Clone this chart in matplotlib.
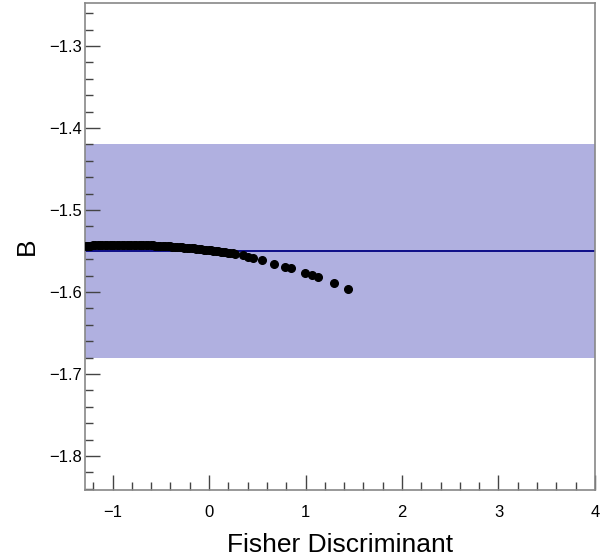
import matplotlib
matplotlib.use("Agg")
import matplotlib.pyplot as plt
from matplotlib.ticker import MultipleLocator, FuncFormatter

plt.rcParams["font.family"] = ["Liberation Sans", "DejaVu Sans"]

# scan points: Fisher discriminant cut vs fitted B (dense part of the scan)
fisher_dense = [-1.28, -1.255, -1.23, -1.205, -1.18, -1.155, -1.13, -1.105,
                -1.08, -1.055, -1.03, -1.005, -0.98, -0.955, -0.93, -0.905,
                -0.88, -0.855, -0.83, -0.805, -0.78, -0.755, -0.73, -0.705,
                -0.68, -0.655, -0.63, -0.605, -0.58, -0.555, -0.53, -0.505,
                -0.48, -0.455, -0.43, -0.405, -0.38, -0.355, -0.33, -0.305,
                -0.28, -0.255, -0.23, -0.205, -0.18, -0.155, -0.13, -0.105,
                -0.08, -0.055, -0.03, -0.005, 0.02, 0.045, 0.07, 0.095,
                0.12, 0.145, 0.17, 0.195, 0.22, 0.245, 0.27]
b_dense = [-1.5437, -1.5435, -1.5434, -1.5432, -1.5431, -1.5430, -1.5429, -1.5428,
           -1.5428, -1.5427, -1.5426, -1.5426, -1.5426, -1.5425, -1.5425, -1.5425,
           -1.5425, -1.5425, -1.5425, -1.5426, -1.5426, -1.5427, -1.5427, -1.5428,
           -1.5429, -1.5430, -1.5431, -1.5432, -1.5433, -1.5434, -1.5436, -1.5437,
           -1.5439, -1.5441, -1.5443, -1.5445, -1.5447, -1.5449, -1.5451, -1.5453,
           -1.5456, -1.5458, -1.5461, -1.5464, -1.5466, -1.5469, -1.5472, -1.5476,
           -1.5479, -1.5482, -1.5486, -1.5489, -1.5493, -1.5496, -1.5500, -1.5504,
           -1.5508, -1.5512, -1.5517, -1.5521, -1.5525, -1.5530, -1.5535]
# sparse tail of the scan
fisher_tail = [0.35, 0.40, 0.46, 0.55, 0.67, 0.79, 0.85, 0.99, 1.07, 1.13, 1.30, 1.44]
b_tail = [-1.5555, -1.5570, -1.5590, -1.5610, -1.5660, -1.5700, -1.5710, -1.5770,
          -1.5790, -1.5820, -1.5890, -1.5960]

b_ref = -1.55
b_lo, b_hi = -1.68, -1.42
xlim = (-1.285, 4.0)
ylim = (-1.8415, -1.2476)

fig = plt.figure(figsize=(6.13, 5.6), dpi=100)
ax = fig.add_axes([0.1387, 0.125, 0.8319, 0.8696])

ax.axhspan(b_lo, b_hi, color="#b0b0e0", lw=0, zorder=1)
ax.axhline(b_ref, color="#000080", lw=1.3, zorder=2)
ax.plot(fisher_dense, b_dense, "o", color="black", ms=5.5, zorder=3)
ax.plot(fisher_tail, b_tail, "o", color="black", ms=5.5, zorder=3)

ax.set_xlim(*xlim)
ax.set_ylim(*ylim)
ax.xaxis.set_major_locator(MultipleLocator(1))
ax.xaxis.set_minor_locator(MultipleLocator(0.2))
ax.yaxis.set_major_locator(MultipleLocator(0.1))
ax.yaxis.set_minor_locator(MultipleLocator(0.02))
ax.yaxis.set_major_formatter(FuncFormatter(lambda v, _: f"{v:.1f}".replace("-", "\u2212")))
ax.xaxis.set_major_formatter(FuncFormatter(lambda v, _: f"{v:g}".replace("-", "\u2212")))

ax.tick_params(which="both", direction="in", top=False, right=False,
               color="#444444", labelsize=12)
ax.tick_params(which="major", length=11, width=1)
ax.tick_params(which="minor", length=6, width=1)
ax.tick_params(axis="x", pad=11)
ax.tick_params(axis="y", pad=2)
for s in ax.spines.values():
    s.set_color("#888888")
    s.set_linewidth(1.2)

ax.set_xlabel("Fisher Discriminant", fontsize=19, labelpad=9)
ax.set_ylabel("B", fontsize=19, labelpad=7.5)

fig.savefig("out.png", dpi=100)
